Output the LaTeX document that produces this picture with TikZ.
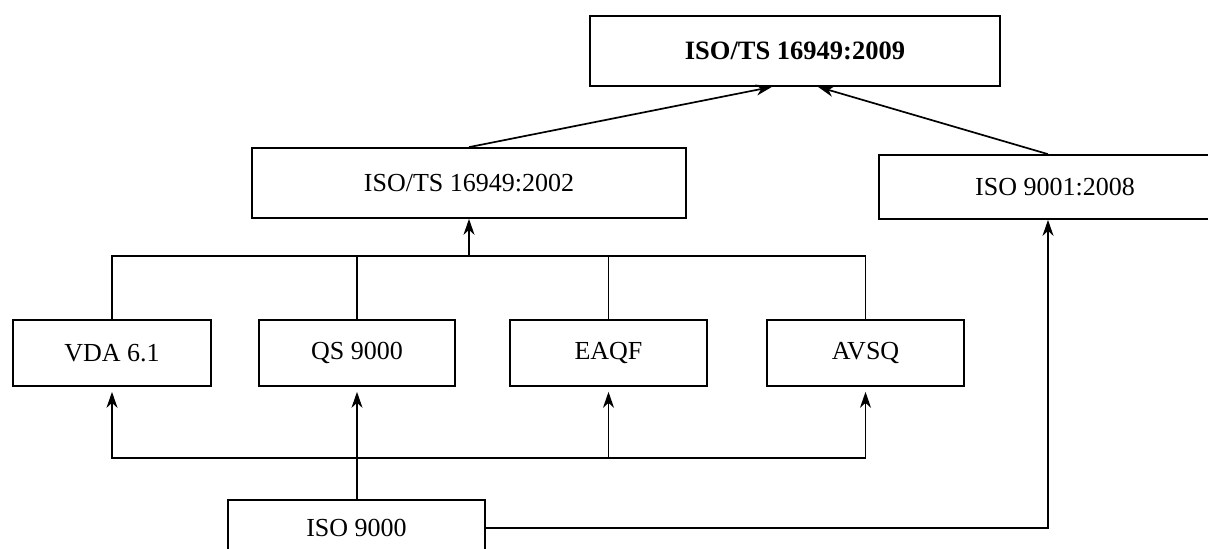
\documentclass[tikz,border=0pt]{standalone}
\usepackage{fontspec}
\setmainfont{Liberation Serif}
\usetikzlibrary{arrows.meta,calc}
\begin{document}
\begin{tikzpicture}[x=1pt,y=-1pt,
  box/.style={draw,line width=1.7pt,inner sep=0pt,font=\fontsize{26}{30}\selectfont},
  conn/.style={line width=1.7pt},
  thinln/.style={line width=1.1pt},
  arr/.style={-{Stealth[length=16pt,width=11pt,inset=5pt]}}]
\clip (0,0) rectangle (1208,549);
\fill[white] (0,0) rectangle (1208,549);
\node[box,minimum width=410pt,minimum height=70pt,font=\bfseries\fontsize{26.5}{30}\selectfont] (top) at (795,51) {ISO/TS 16949:2009};
\node[box,minimum width=434pt,minimum height=70pt] (mid) at (469,183) {ISO/TS 16949:2002};
\node[box,minimum width=352pt,minimum height=64pt] (isoA) at (1055,187) {ISO 9001:2008};
\node[box,minimum width=198pt,minimum height=66pt] (vda) at (112,353) {VDA 6.1};
\node[box,minimum width=196pt,minimum height=66pt] (qs) at (357,353) {QS 9000};
\node[box,minimum width=197pt,minimum height=66pt] (eaqf) at (608.5,353) {EAQF};
\node[box,minimum width=197pt,minimum height=66pt] (avsq) at (865.5,353) {AVSQ};
\node[box,minimum width=257pt,minimum height=56pt] (isoB) at (356.5,528) {ISO 9000};
% upper bus
\coordinate (busT) at (469,256);
\draw[conn] (vda.north) |- (busT) -| (avsq.north);
\draw[conn,arr] (busT) -- (mid.south);
\draw[thinln] (qs.north) -- (qs.north |- busT);
\draw[thinln] (eaqf.north) -- (eaqf.north |- busT);
% lower bus
\coordinate (busB) at (608.5,458);
\draw[conn,arr,shorten >=5pt] (busB) -| (vda.south);
\draw[conn,arr,shorten >=5pt] (busB) -| (avsq.south);
\draw[conn,arr,shorten >=5pt] (busB) -- (eaqf.south);
\draw[thinln,arr,shorten >=5pt] (qs.south |- isoB.north) -- (qs.south);
% ISO 9000 to ISO 9001
\draw[conn,arr] (isoB.east) -| ([xshift=-7pt]isoA.south);
% to top
\draw[conn,arr] (mid.north) -- ([xshift=-23pt]top.south);
\draw[conn,arr] ([xshift=-7pt]isoA.north) -- ([xshift=23pt]top.south);
\end{tikzpicture}
\end{document}
